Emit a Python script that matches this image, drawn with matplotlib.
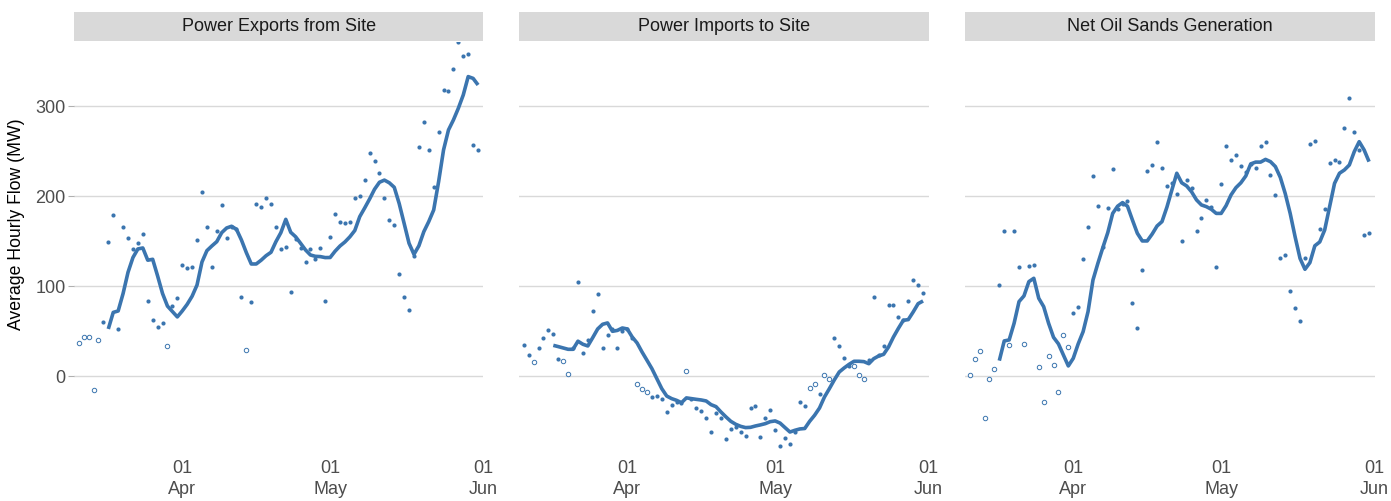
import numpy as np
import matplotlib
matplotlib.use('Agg')
import matplotlib.pyplot as plt
import matplotlib.dates as mdates

plt.rcParams['font.family'] = ['Liberation Sans', 'DejaVu Sans']

# daily dates, 11 Mar -> 31 May
dates = np.datetime64('2016-03-11') + np.arange(82)

titles = ['Power Exports from Site', 'Power Imports to Site', 'Net Oil Sands Generation']

# daily averages (MW)
exports_pts = [37, 44, 44, -15, 40, 60, 149, 179, 53, 166, 154, 141, 148, 158, 84, 63, 55, 59, 34, 78,
               87, 124, 120, 122, 152, 205, 166, 122, 162, 190, 154, 166, 164, 88, 29, 83, 191, 188, 198, 191,
               166, 141, 144, 94, 153, 143, 127, 142, 130, 143, 84, 155, 180, 171, 170, 172, 198, 200, 218, 248,
               239, 226, 198, 174, 168, 114, 88, 74, 134, 255, 283, 252, 210, 272, 318, 317, 342, 371, 356, 358,
               257, 251]
imports_pts = [35, 24, 16, 31, 43, 52, 47, 19, 17, 3, 31, 105, 26, 40, 73, 92, 32, 46, 53, 32,
               50, 53, 43, -9, -14, -17, -23, -22, -25, -40, -32, -28, -30, 6, -25, -35, -38, -46, -62, -41,
               -46, -70, -58, -56, -62, -66, -35, -33, -67, -46, -37, -60, -77, -68, -75, -62, -29, -33, -13, -8,
               -20, 1, -3, 43, 34, 20, 12, 12, 2, -3, 18, 88, 24, 34, 79, 79, 66, 63, 84, 107,
               101, 93]
net_pts = [1.5, 19, 28, -46, -3, 8.5, 101, 161, 35, 162, 121.5, 36, 123, 124, 10, -28.5, 23, 13, -17, 46,
           33, 70, 77, 130, 166, 223, 189, 144, 187, 230, 186, 192, 195, 82, 54, 118, 228.5, 235, 260, 232,
           212, 215, 203, 150, 218.5, 209, 162, 176, 196, 188, 121, 214, 256, 240, 246, 234, 227, 236, 231.5, 256,
           260, 224, 201.5, 131.5, 135, 95, 76, 61, 132, 258.5, 261, 164, 186, 237, 240, 238, 276, 309, 271.5, 251.5,
           157, 159]

# days drawn as open circles
exports_open = [0, 1, 2, 3, 4, 18, 34]
imports_open = [2, 8, 9, 23, 24, 25, 33, 58, 59, 61, 62, 67, 68, 69]
net_open = [0, 1, 2, 3, 4, 5, 8, 11, 14, 15, 16, 17, 18, 19, 20]

# rolling average line (starts on the 7th day)
nan = np.nan
exports_line = [nan] * 6 + [52.6, 71, 72.6, 92, 115.6, 132, 141.5, 142.6, 129, 130, 111.5, 92, 78, 72,
                            66, 72.6, 80, 89, 101.5, 127, 139.6, 144.8, 149.6, 159.6, 164.8, 166.7, 163.3, 151.5,
                            137.4, 124.8, 124.8, 129, 134, 137.8, 149.6, 159.6, 174.4, 160, 155, 147.8, 140.4,
                            134.8, 133.3, 133, 131.9, 132, 139, 144.8, 149.3, 155, 162, 177.4, 187, 197, 207.8,
                            215.6, 218, 215, 210, 192, 170, 147.8, 135.5, 145, 160.7, 171.9, 184.8, 216.3, 251.5,
                            273.7, 284.8, 297.8, 312.6, 333, 331, 323.7]
imports_line = [nan] * 6 + [34.4, 33, 31.5, 30, 30, 39, 35.6, 33.7, 43, 52.6, 57.8, 59.3, 50, 51, 53.7,
                            52.6, 43.7, 37, 27, 17.8, 8.5, -2.6, -13.7, -21.9, -24.8, -26.7, -29.3, -24, -24.8,
                            -25.6, -26.3, -27.4, -31.5, -33.7, -39.6, -45, -50, -53.3, -55.6, -57, -56.7, -55.2,
                            -54, -52.6, -50.4, -49.6, -52, -57, -61.9, -60, -58.5, -58, -50, -43.3, -35.2, -23,
                            -13.7, -4, 4.8, 9.3, 13.3, 16.7, 16.7, 16.3, 14, 19.6, 22.6, 24.4, 32.6, 43.7, 53.3,
                            62.2, 63, 71.5, 80.7, 83.7]
net_line = [nan] * 6 + [17.4, 39.3, 40.4, 58.9, 83, 89.3, 105.2, 108.9, 86.7, 77.4, 58.9, 43.3, 36, 23.7,
                        11.5, 20, 36, 49.6, 71.9, 107, 125.6, 143, 159.6, 181, 189, 193, 189, 173.7, 158.9,
                        150.4, 150.4, 158, 167, 171.9, 188, 207, 225.6, 215, 211.5, 205, 196, 190.4, 188.5,
                        185.6, 181, 181, 189.6, 201.5, 209.6, 215, 222.6, 236, 238, 238, 241, 238.5, 233, 221,
                        203, 181, 155, 131, 118.9, 126.3, 145, 149.3, 162.6, 188.5, 214.4, 225.6, 229.3, 234.8,
                        249.6, 260.7, 251.5, 238.5]

points = [exports_pts, imports_pts, net_pts]
opens = [exports_open, imports_open, net_open]
lines = [exports_line, imports_line, net_line]

blue = '#3b75af'
W, H = 1391, 501
fig = plt.figure(figsize=(W / 100, H / 100), dpi=100)

lefts = [74, 519, 965]
pw = 409.5
ax_bottom = (H - 452.8) / H
ax_h = (452.8 - 41.5) / H

for k in range(3):
    ax = fig.add_axes([lefts[k] / W, ax_bottom, pw / W, ax_h])
    vals = np.array(points[k], dtype=float)
    is_open = np.zeros(len(vals), dtype=bool)
    is_open[opens[k]] = True

    ax.plot(dates[~is_open], vals[~is_open], 'o', color=blue, ms=3.0, mec=blue, mew=0, zorder=3)
    ax.plot(dates[is_open], vals[is_open], 'o', color=blue, ms=3.2, mfc='white', mec=blue, mew=0.7, zorder=3)
    ax.plot(dates, lines[k], '-', color=blue, lw=2.6, solid_capstyle='butt', zorder=4)

    ax.set_xlim(np.datetime64('2016-03-10T01:00'), np.datetime64('2016-06-01T02:30'))
    ax.set_ylim(-85, 372)
    ax.set_yticks([0, 100, 200, 300])
    ax.xaxis.set_major_locator(mdates.MonthLocator())
    ax.xaxis.set_major_formatter(mdates.DateFormatter('%d\n%b'))
    ax.grid(axis='y', color='#d9d9d9', lw=1.0)
    ax.set_axisbelow(True)
    for s in ax.spines.values():
        s.set_visible(False)
    ax.tick_params(axis='x', length=0, pad=5, labelsize=13, labelcolor='#4d4d4d')
    for lab in ax.get_xticklabels():
        lab.set_linespacing(1.3)
    if k == 0:
        ax.tick_params(axis='y', length=4, width=0.8, color='#b0b0b0', pad=2,
                       labelsize=13, labelcolor='#4d4d4d')
        ax.set_ylabel('Average Hourly Flow (MW)', fontsize=12.7, color='black')
        ax.yaxis.set_label_coords(-0.12, 0.556)
    else:
        ax.tick_params(axis='y', length=0, labelleft=False)

    # facet strip
    sax = fig.add_axes([lefts[k] / W, (H - 41) / H, pw / W, 29 / H])
    sax.set_facecolor('#d9d9d9')
    sax.set_xticks([])
    sax.set_yticks([])
    for s in sax.spines.values():
        s.set_visible(False)
    sax.text(0.5, 0.5, titles[k], ha='center', va='center', fontsize=13, color='#1a1a1a',
             transform=sax.transAxes)

fig.savefig('out.png', dpi=100)
